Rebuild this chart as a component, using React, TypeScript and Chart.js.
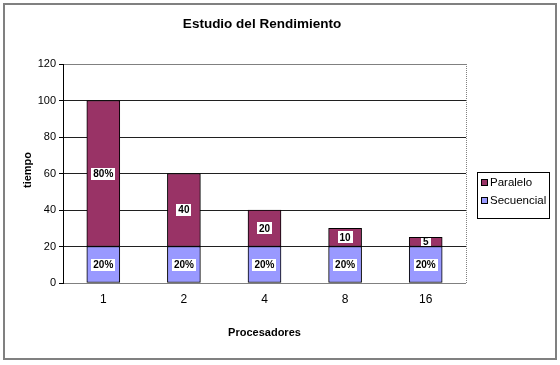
import React, { useEffect, useRef } from 'react';
import { Chart, registerables } from 'chart.js';

Chart.register(...registerables);

const categories = ['1', '2', '4', '8', '16'];
const secuencial = [20, 20, 20, 20, 20];
const paralelo = [80, 40, 20, 10, 5];
const secuencialLabels = ['20%', '20%', '20%', '20%', '20%'];
const paraleloLabels = ['80%', '40', '20', '10', '5'];
const yMin = 0;
const yMax = 120;
const yStep = 20;
const chartTitle = 'Estudio del Rendimiento';
const xTitle = 'Procesadores';
const yTitle = 'tiempo';
const seriesNames = ['Secuencial', 'Paralelo'];
const seriesColors = ['#9999FF', '#993366'];

const FONT = 'Arial, "Liberation Sans", sans-serif';

const decorPlugin = {
  id: 'decor',
  beforeDraw(chart: any) {
    const { ctx, width, height } = chart;
    ctx.save();
    ctx.fillStyle = '#ffffff';
    ctx.fillRect(0, 0, width, height);
    ctx.strokeStyle = '#808080';
    ctx.lineWidth = 2;
    ctx.strokeRect(4, 4, 552, 355);
    ctx.restore();
  },
  beforeDatasetsDraw(chart: any) {
    const { ctx, chartArea } = chart;
    ctx.save();
    ctx.strokeStyle = '#808080';
    ctx.lineWidth = 1;
    ctx.setLineDash([1, 1]);
    ctx.beginPath();
    ctx.moveTo(Math.round(chartArea.right) + 0.5, chartArea.top);
    ctx.lineTo(Math.round(chartArea.right) + 0.5, chartArea.bottom);
    ctx.stroke();
    ctx.restore();
  },
  afterDraw(chart: any) {
    const { ctx, chartArea } = chart;
    ctx.save();
    // data labels
    const labelSets = [secuencialLabels, paraleloLabels];
    chart.data.datasets.forEach((ds: any, di: number) => {
      const meta = chart.getDatasetMeta(di);
      meta.data.forEach((el: any, i: number) => {
        const txt = labelSets[di][i];
        const cx = el.x;
        const cy = (el.y + el.base) / 2;
        ctx.font = `bold 10px ${FONT}`;
        const w = ctx.measureText(txt).width;
        const bh = Math.min(12, Math.abs(el.base - el.y) - 1);
        ctx.fillStyle = '#ffffff';
        ctx.fillRect(Math.round(cx - w / 2 - 2), Math.round(cy - bh / 2), Math.round(w + 4), Math.round(bh));
        ctx.fillStyle = '#000000';
        ctx.textAlign = 'center';
        ctx.textBaseline = 'middle';
        ctx.fillText(txt, cx, cy + 0.5);
      });
    });

    // title
    ctx.fillStyle = '#000';
    ctx.textAlign = 'center';
    ctx.textBaseline = 'middle';
    ctx.font = `bold 13.5px ${FONT}`;
    ctx.fillText(chartTitle, 262, 24);

    // x title
    ctx.font = `bold 11px ${FONT}`;
    ctx.fillText(xTitle, (chartArea.left + chartArea.right) / 2, 333);

    // y title
    ctx.save();
    ctx.translate(28, 170);
    ctx.rotate(-Math.PI / 2);
    ctx.fillText(yTitle, 0, 0);
    ctx.restore();

    // legend
    ctx.strokeStyle = '#000';
    ctx.lineWidth = 1;
    ctx.strokeRect(477.5, 172.5, 72, 46);
    const order = [1, 0];
    order.forEach((si, k) => {
      const y = 183 + k * 18;
      ctx.fillStyle = seriesColors[si];
      ctx.fillRect(481, y - 4, 7, 7);
      ctx.strokeStyle = '#000';
      ctx.strokeRect(481.5, y - 3.5, 6, 6);
      ctx.fillStyle = '#000';
      ctx.textAlign = 'left';
      ctx.textBaseline = 'middle';
      ctx.font = `11.5px ${FONT}`;
      ctx.fillText(seriesNames[si], 490, y);
    });
    ctx.restore();
  },
};

export default function App() {
  const ref = useRef<HTMLCanvasElement | null>(null);
  useEffect(() => {
    document.body.style.margin = '0';
    const canvas = ref.current;
    if (!canvas) return;
    const chart = new Chart(canvas, {
      type: 'bar',
      data: {
        labels: categories,
        datasets: [
          {
            label: seriesNames[0],
            data: secuencial,
            backgroundColor: seriesColors[0],
            borderColor: '#000',
            borderWidth: 1,
            borderSkipped: false,
            barThickness: 33,
          },
          {
            label: seriesNames[1],
            data: paralelo,
            backgroundColor: seriesColors[1],
            borderColor: '#000',
            borderWidth: 1,
            borderSkipped: false,
            barThickness: 33,
          },
        ],
      },
      options: {
        responsive: false,
        animation: false,
        devicePixelRatio: 1,
        layout: { padding: { top: 64, right: 94, bottom: 52, left: 0 } },
        plugins: {
          legend: { display: false },
          title: { display: false },
          tooltip: { enabled: false },
        },
        scales: {
          x: {
            stacked: true,
            grid: { display: false, drawTicks: false },
            border: { display: false },
            ticks: { color: '#000', font: { family: FONT, size: 12 }, padding: 9 },
            afterFit: (s: any) => { s.height = 30; },
          },
          y: {
            stacked: true,
            min: yMin,
            max: yMax,
            ticks: { stepSize: yStep, color: '#000', font: { family: FONT, size: 11 }, padding: 3 },
            grid: {
              color: (c: any) => (c.tick && (c.tick.value === yMin || c.tick.value === yMax) ? '#808080' : '#202020'),
              tickColor: '#000',
              tickLength: 4,
              lineWidth: 1,
            },
            border: { display: true, color: '#000' },
            afterFit: (s: any) => { s.width = 63; },
          },
        },
      },
      plugins: [decorPlugin],
    });
    return () => chart.destroy();
  }, []);
  return <canvas ref={ref} width={560} height={365} style={{ display: 'block' }} />;
}
